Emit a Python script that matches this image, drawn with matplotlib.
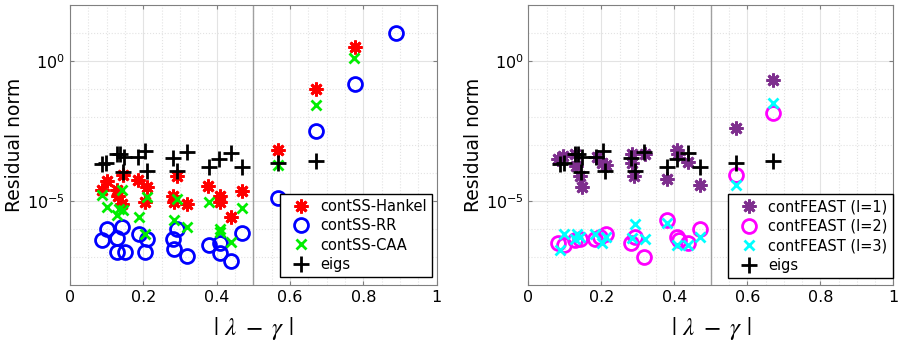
import numpy as np
import matplotlib
matplotlib.use("Agg")
import matplotlib.pyplot as plt
from matplotlib.ticker import MultipleLocator, LogLocator, NullFormatter

# |lambda - gamma| and residual norms
eigs_x = [0.086, 0.098, 0.129, 0.136, 0.147, 0.144, 0.186, 0.204, 0.211, 0.282,
          0.292, 0.318, 0.380, 0.407, 0.438, 0.470, 0.568, 0.670]
eigs_res = [2.2e-4, 2.3e-4, 4.7e-4, 5.0e-4, 3.8e-4, 1.1e-4, 3.8e-4, 6.2e-4, 1.15e-4, 3.55e-4,
            1.15e-4, 5.9e-4, 1.7e-4, 3.1e-4, 5.4e-4, 1.6e-4, 2.3e-4, 2.7e-4]

hankel_x = [0.086, 0.100, 0.127, 0.132, 0.145, 0.141, 0.186, 0.211, 0.204, 0.291, 0.282,
            0.283, 0.318, 0.377, 0.409, 0.409, 0.438, 0.470, 0.568, 0.670, 0.777]
hankel_res = [2.6e-5, 5.1e-5, 2.45e-5, 1.5e-5, 8.9e-5, 7.6e-6, 5.6e-5, 3.2e-5, 9.1e-6, 7.8e-5, 1.5e-5,
              9.1e-6, 7.6e-6, 3.6e-5, 1.5e-5, 9.1e-6, 2.75e-6, 2.3e-5, 6.6e-4, 0.102, 3.16]

rr_x = [0.100, 0.086, 0.129, 0.141, 0.127, 0.150, 0.188, 0.211, 0.204, 0.282, 0.292,
        0.283, 0.318, 0.380, 0.409, 0.409, 0.438, 0.470, 0.568, 0.670, 0.777, 0.888]
rr_res = [1.05e-6, 4.1e-7, 4.9e-7, 1.2e-6, 1.5e-7, 1.5e-7, 6.5e-7, 4.3e-7, 1.5e-7, 4.5e-7, 1.02e-6,
          1.9e-7, 1.1e-7, 2.8e-7, 3.2e-7, 1.35e-7, 7.2e-8, 7.4e-7, 1.3e-5, 3.2e-3, 0.148, 10.2]

caa_x = [0.086, 0.100, 0.129, 0.134, 0.141, 0.145, 0.188, 0.211, 0.204, 0.283,
         0.291, 0.320, 0.380, 0.409, 0.410, 0.438, 0.470, 0.568, 0.670, 0.774]
caa_res = [1.6e-5, 6.3e-6, 3.1e-6, 5.4e-6, 2.45e-5, 4.8e-6, 2.75e-6, 1.4e-5, 6.5e-7, 2.1e-6,
           1.15e-5, 1.2e-6, 9.1e-6, 9.8e-7, 7.8e-7, 3.5e-7, 5.8e-6, 1.95e-4, 2.8e-2, 1.32]

feast1_x = [0.082, 0.096, 0.128, 0.131, 0.142, 0.146, 0.187, 0.203, 0.213, 0.283,
            0.283, 0.289, 0.320, 0.379, 0.406, 0.411, 0.438, 0.470, 0.569, 0.671]
feast1_res = [3.2e-4, 4.1e-4, 5.0e-4, 1.8e-4, 7.8e-5, 3.2e-5, 3.8e-4, 2.35e-4, 1.9e-4, 4.7e-4,
              2.35e-4, 7.8e-5, 5.0e-4, 6.3e-5, 6.6e-4, 4.7e-4, 2.45e-4, 3.9e-5, 4.2e-3, 0.22]

feast2_x = [0.082, 0.098, 0.128, 0.142, 0.183, 0.196, 0.213, 0.280, 0.292, 0.317,
            0.381, 0.408, 0.414, 0.438, 0.470, 0.569, 0.671]
feast2_res = [3.1e-7, 2.6e-7, 4.1e-7, 4.5e-7, 4.5e-7, 5.4e-7, 6.9e-7, 3.2e-7, 5.4e-7, 1.0e-7,
              2.2e-6, 5.4e-7, 4.1e-7, 3.1e-7, 1.02e-6, 8.3e-5, 1.4e-2]

feast3_x = [0.087, 0.098, 0.128, 0.134, 0.142, 0.183, 0.201, 0.213, 0.283, 0.292,
            0.320, 0.379, 0.406, 0.438, 0.470, 0.569, 0.671]
feast3_res = [1.8e-7, 6.9e-7, 4.5e-7, 6.5e-7, 5.4e-7, 6.9e-7, 3.2e-7, 5.4e-7, 4.9e-7, 1.5e-6,
              4.5e-7, 1.6e-6, 2.6e-7, 2.6e-7, 5.4e-7, 3.9e-5, 3.1e-2]

x_ticks = [0, 0.2, 0.4, 0.6, 0.8, 1.0]
x_ticklabels = ['0', '0.2', '0.4', '0.6', '0.8', '1']

plt.rcParams['font.family'] = ['DejaVu Sans']
plt.rcParams['mathtext.fontset'] = 'dejavusans'

asterisk = (8, 2, 0)
fig = plt.figure(figsize=(8.99, 3.46), dpi=100)
ax1 = fig.add_axes([0.0779, 0.176, 0.408, 0.809])
ax2 = fig.add_axes([0.5877, 0.176, 0.406, 0.809])


def style_axis(ax):
    ax.set_yscale('log')
    ax.set_xticks(x_ticks)
    ax.set_xticklabels(x_ticklabels)
    ax.xaxis.set_minor_locator(MultipleLocator(0.05))
    ax.set_xlim(0, 1)
    ax.set_ylim(1e-8, 1e2)
    ax.set_yticks([1e-5, 1e0])
    ax.yaxis.set_minor_locator(LogLocator(base=10, subs=[1.0], numticks=20))
    ax.yaxis.set_minor_formatter(NullFormatter())
    ax.grid(True, which='major', color='#e3e3e3', linewidth=0.8)
    ax.grid(True, which='minor', color='#e3e3e3', linestyle=':', linewidth=0.8)
    ax.set_axisbelow(True)
    ax.axvline(0.5, color='#a0a0a0', linewidth=1.0, zorder=1)
    ax.tick_params(which='both', direction='in', color='#808080', labelsize=11.5,
                   top=True, right=True, length=3)
    ax.tick_params(which='minor', length=0)
    for s in ax.spines.values():
        s.set_color('#808080')
    ax.set_ylabel('Residual norm', fontsize=13.5, labelpad=2)
    ax.set_xlabel(r'$|\ \lambda\ -\ \gamma\ |$', fontsize=18, labelpad=7,
                  math_fontfamily='stix')


def add_legend(ax, anchor):
    leg = ax.legend(loc='lower right', bbox_to_anchor=anchor, borderaxespad=0,
                    fontsize=10.5, frameon=True, fancybox=False, framealpha=1, edgecolor='black',
                    handlelength=2.2, handletextpad=0.2, labelspacing=0.3, borderpad=0.35)
    leg.get_frame().set_linewidth(1.0)
    leg.set_zorder(10)
    return leg


style_axis(ax1)
ax1.plot(hankel_x, hankel_res, ls='none', marker=asterisk, ms=10, mew=2, color='#ff0000', label='contSS-Hankel')
ax1.plot(rr_x, rr_res, ls='none', marker='o', ms=10, mew=2, mfc='none', color='#0000ff', label='contSS-RR')
ax1.plot(caa_x, caa_res, ls='none', marker='x', ms=7, mew=2, color='#00ee00', label='contSS-CAA')
ax1.plot(eigs_x, eigs_res, ls='none', marker='+', ms=11, mew=2, color='black', label='eigs')
add_legend(ax1, (0.986, 0.029))

style_axis(ax2)
ax2.plot(feast1_x, feast1_res, ls='none', marker=asterisk, ms=10, mew=2, color='#7e2f8e', label='contFEAST (l=1)')
ax2.plot(feast2_x, feast2_res, ls='none', marker='o', ms=10, mew=2, mfc='none', color='#ff00ff', label='contFEAST (l=2)')
ax2.plot(feast3_x, feast3_res, ls='none', marker='x', ms=7, mew=2, color='#00ffff', label='contFEAST (l=3)')
ax2.plot(eigs_x, eigs_res, ls='none', marker='+', ms=11, mew=2, color='black', label='eigs')
add_legend(ax2, (0.998, 0.026))

fig.savefig('out.png', dpi=100)
